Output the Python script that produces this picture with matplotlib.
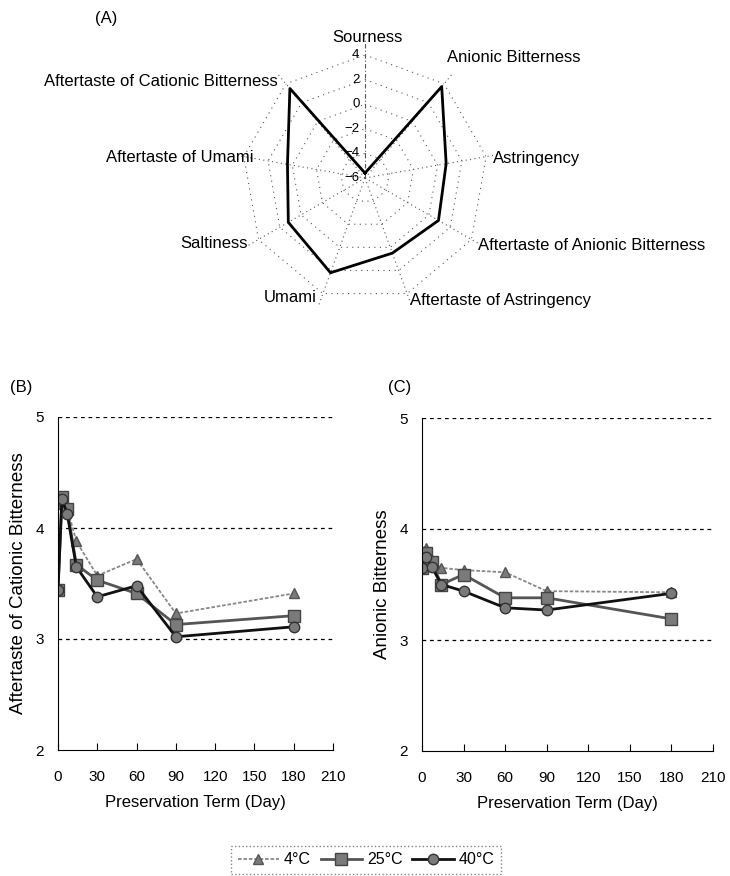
import numpy as np
import matplotlib.pyplot as plt
from matplotlib.lines import Line2D

plt.rcParams['font.family'] = ['Liberation Sans', 'DejaVu Sans']

# radar data (panel A)
tastes = ['Sourness', 'Anionic Bitterness', 'Astringency',
          'Aftertaste of Anionic Bitterness', 'Aftertaste of Astringency',
          'Umami', 'Saltiness', 'Aftertaste of Umami',
          'Aftertaste of Cationic Bitterness']
taste_vals = [-5.6, 3.7, 0.7, 0.9, 0.5, 2.2, 1.2, 0.4, 3.5]
r_ticks = [4, 2, 0, -2, -4, -6]

# time course data (panels B and C)
days = [0, 3, 7, 14, 30, 60, 90, 180]
cat_4 = [3.44, 4.22, 4.18, 3.88, 3.57, 3.72, 3.23, 3.41]
cat_25 = [3.44, 4.28, 4.17, 3.67, 3.53, 3.41, 3.13, 3.21]
cat_40 = [3.44, 4.26, 4.13, 3.65, 3.38, 3.48, 3.02, 3.11]
an_4 = [3.65, 3.83, 3.72, 3.65, 3.63, 3.61, 3.44, 3.43]
an_25 = [3.65, 3.78, 3.70, 3.50, 3.59, 3.38, 3.38, 3.19]
an_40 = [3.65, 3.75, 3.66, 3.50, 3.44, 3.29, 3.27, 3.42]
temps = ['4°C', '25°C', '40°C']

W, H = 730, 876


def fx(x, y):
    return x / W, 1 - y / H


fig = plt.figure(figsize=(7.3, 8.76), dpi=100)

# ---- (A) radar
n = len(tastes)
theta = np.linspace(0, 2 * np.pi, n, endpoint=False)
cx, cy, rad = 365, 178, 123
ax = fig.add_axes([(cx - rad) / W, 1 - (cy + rad) / H, 2 * rad / W, 2 * rad / H],
                  projection='polar')
ax.set_theta_zero_location('N')
ax.set_theta_direction(-1)
ax.set_ylim(-6, 4)
ax.grid(False)
ax.set_xticks([])
ax.set_yticks([])
ax.spines['polar'].set_visible(False)
ax.patch.set_visible(False)

th_closed = np.append(theta, theta[0])
for r in r_ticks[:-1]:
    ax.plot(th_closed, [r] * (n + 1), ls=(0, (1, 4)), color='#555555', lw=0.8)
for i, t in enumerate(theta):
    ls = (0, (4, 2, 1, 2)) if i == 0 else (0, (1, 3))
    ax.plot([t, t], [-6, 5.2], ls=ls, color='#555555', lw=0.8, clip_on=False)
ax.plot(th_closed, np.append(taste_vals, taste_vals[0]), color='black', lw=2)
for r in r_ticks:
    ax.annotate(str(r).replace('-', '−'), (0, r), xytext=(-4, 0),
                textcoords='offset points', ha='right', va='center', fontsize=9.5)

label_pos = [(367, 37, 'center'), (447, 57, 'left'), (493, 158, 'left'),
             (478, 245, 'left'), (410, 300, 'left'), (290, 297, 'center'),
             (248, 243, 'right'), (253, 158, 'right'), (278, 82, 'right')]
for name, (x, y, ha) in zip(tastes, label_pos):
    fig.text(*fx(x, y), name, ha=ha, va='center', fontsize=12)
fig.text(*fx(95, 18), '(A)', ha='left', va='center', fontsize=12)

# ---- (B) and (C)
styles = [dict(color='#888888', lw=1.3, ls=(0, (2, 1)), marker='^', ms=7,
               mfc='#7a7a7a', mec='#555555'),
          dict(color='#555555', lw=2, ls='-', marker='s', ms=8.5,
               mfc='#7a7a7a', mec='#444444'),
          dict(color='#111111', lw=2, ls='-', marker='o', ms=7.5,
               mfc='#7a7a7a', mec='#333333')]

panels = [([58, 750, 333], [cat_4, cat_25, cat_40],
           'Aftertaste of Cationic Bitterness', '(B)', 10),
          ([422, 751, 713], [an_4, an_25, an_40],
           'Anionic Bitterness', '(C)', 388)]
for (left, bottom, right), series, ylab, tag, tagx in panels:
    a = fig.add_axes([left / W, 1 - bottom / H, (right - left) / W, 333 / H])
    for ys, st in zip(series, styles):
        a.plot(days, ys, **st)
    a.set_xlim(0, 210)
    a.set_ylim(2, 5)
    a.set_xticks(range(0, 211, 30))
    a.set_yticks([2, 3, 4, 5])
    for g in [3, 4, 5]:
        a.axhline(g, color='black', lw=0.9, ls=(0, (3, 3)), zorder=0)
    a.spines['top'].set_visible(False)
    a.spines['right'].set_visible(False)
    a.tick_params(axis='x', direction='in', length=5, labelsize=11, pad=14.5)
    a.tick_params(axis='y', length=0, labelsize=11, pad=10)
    a.set_xlabel('Preservation Term (Day)', fontsize=12, labelpad=8)
    a.set_ylabel(ylab, fontsize=13.5, labelpad=6)
    fig.text(*fx(tagx, 388), tag, ha='left', va='center', fontsize=12)

handles = [Line2D([], [], **st) for st in styles]
leg = fig.legend(handles, temps, loc='center', bbox_to_anchor=fx(366, 860),
                 ncol=3, fontsize=11.5, handlelength=2.6, columnspacing=0.6,
                 handletextpad=0.3, fancybox=False, edgecolor='#666666',
                 borderpad=0.4)
leg.get_frame().set_linestyle(':')

fig.savefig('out.png', dpi=100)
